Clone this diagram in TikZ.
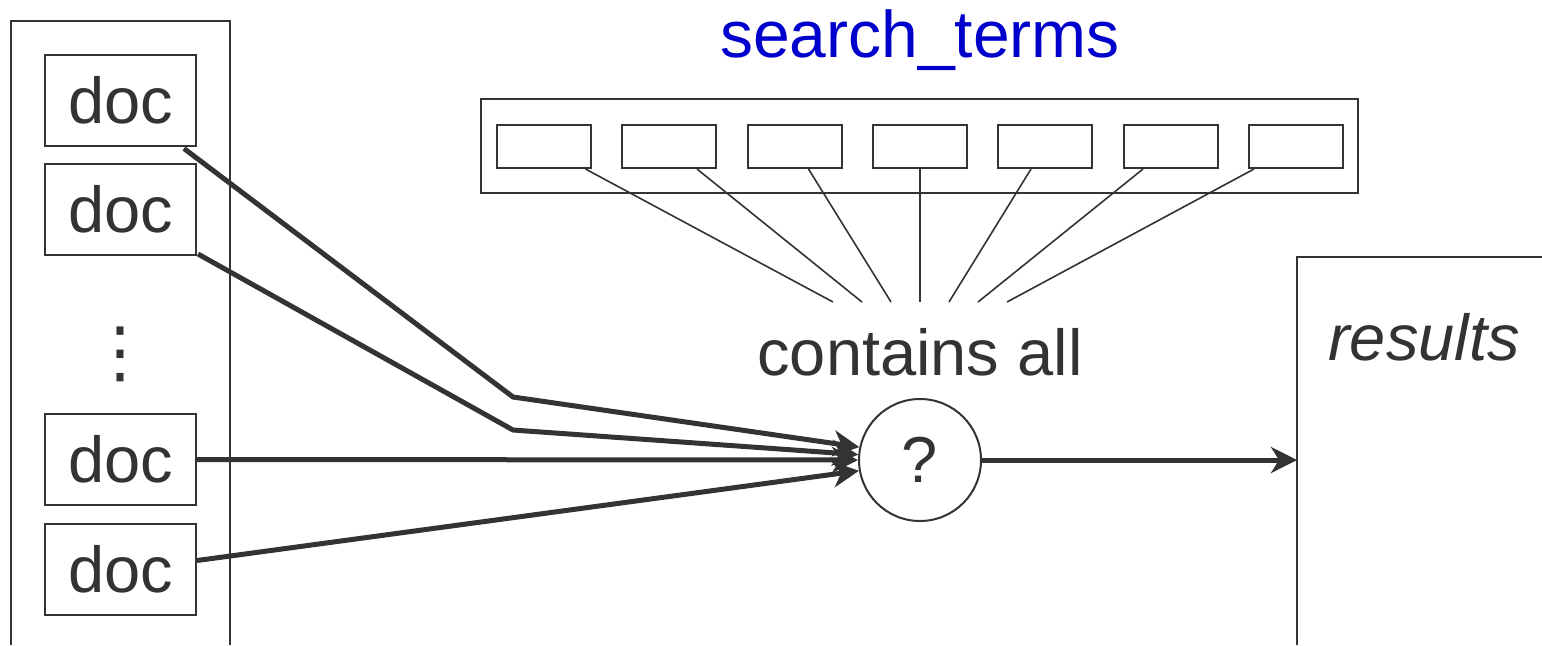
\documentclass[tikz,border=0pt]{standalone}
\usepackage{fontspec}
\setmainfont{Liberation Sans}
\newfontfamily\dotfont{DejaVu Sans}
\usepackage{tikz}
\usetikzlibrary{arrows.meta,positioning,calc}
\definecolor{ink}{HTML}{333333}
\definecolor{termblue}{HTML}{0000CC}
\tikzset{
  docbox/.style = {draw = ink, line width = 1pt, minimum width = 75.5pt, minimum height = 45.5pt, inner sep = 0pt},
  termbox/.style = {draw = ink, line width = 1pt, minimum width = 47pt, minimum height = 21.5pt, inner sep = 0pt},
  flow/.style = {draw = ink, line width = 2.5pt, -{Stealth[length = 13pt, width = 13pt, inset = 4pt]}},
  fan/.style = {draw = ink, line width = .8pt}
}

\begin{document}
\begin{tikzpicture}[x = .5pt, y = -.5pt, font = \fontsize{32.5}{39}\selectfont, text = ink]
    \useasboundingbox (0,0) rectangle (1542,645);
    % the collection of docs
    \draw[ink, line width = 1pt] (11,645) -- (11,21) -- (230,21) -- (230,645);
    \node[docbox] (d1) at (120.5,100) {doc};
    \node[docbox] (d2) at (120.5,209.5) {doc};
    \node[font = \dotfont\fontsize{34}{40}\selectfont] (dots) at (120,354) {⋮};
    \node[docbox] (d3) at (120.5,459.5) {doc};
    \node[docbox] (d4) at (120.5,569.5) {doc};
    % the terms
    \node[text = termblue, font = \fontsize{33}{39}\selectfont] (st) at (920,40) {search\_terms};
    \node[draw = ink, line width = 1pt, minimum width = 438.5pt, minimum height = 47pt, inner sep = 0pt] (terms) at (919.5,146) {};
    \foreach \i/\x in {1/543.5, 2/669, 3/794.5, 4/920, 5/1045, 6/1171, 7/1296}
        \node[termbox] (t\i) at (\x,146.5) {};
    \node[anchor = base] (all) at (920,375) {contains all};
    \coordinate (fan) at (920,302);
    \foreach \i in {1,...,7}
        \draw[fan] ($(t\i.south)+({-14*(\i-4)},0)$) -- ($(fan)+({29*(\i-4)},0)$);
    % test and results
    \node[draw = ink, circle, line width = 1pt, minimum size = 61pt, inner sep = 0pt] (q) at (920,460) {?};
    \draw[ink, line width = 1pt] (1297,645) -- (1297,257) -- (1542,257);
    \node[font = \fontsize{32.5}{39}\selectfont\itshape] (res) at (1424,337) {results};
    \coordinate (in) at (1297,460);
    \coordinate (b1) at (513,397);
    \coordinate (b2) at (513,430);
    \draw[flow] ($(d1.south east)+(-13,2)$) -- (b1) -- (q.168);
    \draw[flow] ($(d2.south east)+(1,-2)$) -- (b2) -- (q.175);
    \draw[flow] (d3.east) -- (q.west);
    \draw[flow] ($(d4.east)+(0,-9)$) -- (q.190);
    \draw[flow] (q.east) -- (in);
\end{tikzpicture}
\end{document}
